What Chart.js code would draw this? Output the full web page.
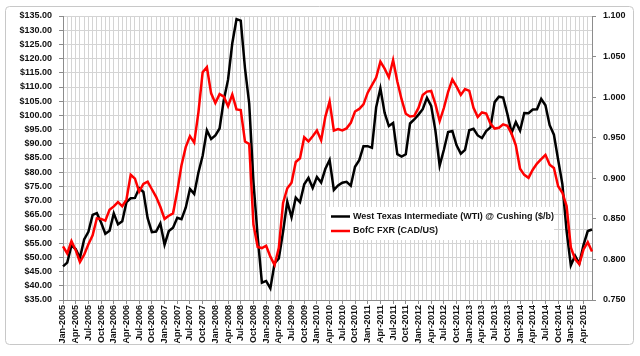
<!DOCTYPE html>
<html><head><meta charset="utf-8">
<script src="https://cdn.jsdelivr.net/npm/chart.js@4.4.1/dist/chart.umd.min.js"></script>
<style>html,body{margin:0;padding:0;background:#fff;}#wrap{width:640px;height:356px;}</style>
</head><body><div id="wrap"><canvas id="c" width="640" height="356"></canvas></div>
<script>
const months = [
 'Jan-2005','Feb-2005','Mar-2005','Apr-2005','May-2005','Jun-2005','Jul-2005','Aug-2005','Sep-2005','Oct-2005','Nov-2005','Dec-2005',
 'Jan-2006','Feb-2006','Mar-2006','Apr-2006','May-2006','Jun-2006','Jul-2006','Aug-2006','Sep-2006','Oct-2006','Nov-2006','Dec-2006',
 'Jan-2007','Feb-2007','Mar-2007','Apr-2007','May-2007','Jun-2007','Jul-2007','Aug-2007','Sep-2007','Oct-2007','Nov-2007','Dec-2007',
 'Jan-2008','Feb-2008','Mar-2008','Apr-2008','May-2008','Jun-2008','Jul-2008','Aug-2008','Sep-2008','Oct-2008','Nov-2008','Dec-2008',
 'Jan-2009','Feb-2009','Mar-2009','Apr-2009','May-2009','Jun-2009','Jul-2009','Aug-2009','Sep-2009','Oct-2009','Nov-2009','Dec-2009',
 'Jan-2010','Feb-2010','Mar-2010','Apr-2010','May-2010','Jun-2010','Jul-2010','Aug-2010','Sep-2010','Oct-2010','Nov-2010','Dec-2010',
 'Jan-2011','Feb-2011','Mar-2011','Apr-2011','May-2011','Jun-2011','Jul-2011','Aug-2011','Sep-2011','Oct-2011','Nov-2011','Dec-2011',
 'Jan-2012','Feb-2012','Mar-2012','Apr-2012','May-2012','Jun-2012','Jul-2012','Aug-2012','Sep-2012','Oct-2012','Nov-2012','Dec-2012',
 'Jan-2013','Feb-2013','Mar-2013','Apr-2013','May-2013','Jun-2013','Jul-2013','Aug-2013','Sep-2013','Oct-2013','Nov-2013','Dec-2013',
 'Jan-2014','Feb-2014','Mar-2014','Apr-2014','May-2014','Jun-2014','Jul-2014','Aug-2014','Sep-2014','Oct-2014','Nov-2014','Dec-2014',
 'Jan-2015','Feb-2015','Mar-2015','Apr-2015','May-2015','Jun-2015'
];
const wti = [
 46.84,48.15,54.19,52.98,49.83,56.35,59.00,64.99,65.59,62.26,58.32,59.41,
 65.49,61.63,62.69,69.44,70.84,70.95,74.41,73.04,63.80,58.89,59.08,61.96,
 54.51,59.28,60.44,63.98,63.46,67.49,74.12,72.36,79.92,85.80,94.77,91.69,
 92.97,95.39,105.45,112.58,125.40,133.88,133.37,116.67,104.11,76.61,57.31,41.12,
 41.71,39.09,47.94,49.65,59.03,69.64,64.15,71.05,69.41,75.72,77.99,74.47,
 78.33,76.39,81.20,84.29,73.74,75.34,76.32,76.60,75.24,81.89,84.25,89.15,
 89.17,88.58,102.86,109.53,100.90,96.26,97.30,86.33,85.52,86.32,97.16,98.56,
 100.27,102.20,106.16,103.32,94.66,82.30,87.90,94.13,94.51,89.49,86.53,87.86,
 94.76,95.31,92.94,92.02,94.51,95.77,104.67,106.57,106.29,100.54,93.86,97.63,
 94.62,100.82,100.80,102.07,102.18,105.79,103.59,96.54,93.21,84.40,75.79,59.29,
 47.22,50.58,47.82,54.45,59.27,59.82
];
const cadus = [
 0.8160,0.8073,0.8225,0.8114,0.7967,0.8058,0.8186,0.8296,0.8507,0.8499,0.8478,0.8612,
 0.8654,0.8707,0.8655,0.8738,0.9043,0.8996,0.8836,0.8930,0.8958,0.8865,0.8772,0.8649,
 0.8500,0.8539,0.8568,0.8839,0.9160,0.9384,0.9519,0.9440,0.9813,1.0307,1.0369,1.0047,
 0.9928,1.0037,1.0006,0.9889,1.0032,0.9849,0.9840,0.9454,0.9422,0.8430,0.8153,0.8140,
 0.8169,0.8034,0.7931,0.8143,0.8697,0.8877,0.8946,0.9201,0.9247,0.9505,0.9454,0.9518,
 0.9590,0.9470,0.9760,0.9947,0.9588,0.9606,0.9590,0.9615,0.9683,0.9823,0.9855,0.9911,
 1.0055,1.0148,1.0242,1.0437,1.0351,1.0243,1.0458,1.0193,0.9975,0.9795,0.9762,0.9769,
 0.9867,1.0026,1.0068,1.0077,0.9913,0.9705,0.9866,1.0064,1.0218,1.0130,1.0028,1.0099,
 1.0078,0.9868,0.9754,0.9811,0.9798,0.9675,0.9613,0.9623,0.9665,0.9647,0.9551,0.9406,
 0.9118,0.9042,0.9005,0.9106,0.9181,0.9236,0.9289,0.9166,0.9128,0.8902,0.8822,0.8657,
 0.8148,0.8004,0.7941,0.8123,0.8213,0.8099
];
const seriesLabels = ['West Texas Intermediate (WTI) @ Cushing ($/b)', 'BofC FXR (CAD/US)'];
const leftAxis = {min: 35, max: 135, step: 5};
const rightAxis = {min: 0.75, max: 1.10, step: 0.05};

const FONT = '"Liberation Sans", Arial, sans-serif';
const tickFont = {family: FONT, size: 9, weight: 'bold'};
const GRID = '#d4d4d4';
const AXIS = '#8c8c8c';

const framePlugin = {
  id: 'frame',
  beforeDraw(chart) {
    const ctx = chart.ctx;
    ctx.save();
    ctx.fillStyle = '#fff';
    ctx.fillRect(0, 0, chart.width, chart.height);
    ctx.strokeStyle = '#c8c8c8';
    ctx.lineWidth = 1;
    ctx.beginPath();
    ctx.roundRect(5.5, 6.5, 628, 338, 4);
    ctx.stroke();
    ctx.restore();
  }
};

const legendPlugin = {
  id: 'innerLegend',
  afterDatasetsDraw(chart) {
    const ctx = chart.ctx;
    ctx.save();
    ctx.fillStyle = '#fff';
    ctx.fillRect(326, 207, 228, 33);
    const rows = [[chart.data.datasets[0], 216.5], [chart.data.datasets[1], 231]];
    ctx.font = 'bold 9px ' + FONT;
    ctx.textBaseline = 'middle';
    rows.forEach(([ds, y]) => {
      ctx.strokeStyle = ds.borderColor;
      ctx.lineWidth = 2.5;
      ctx.beginPath();
      ctx.moveTo(331, y); ctx.lineTo(350, y);
      ctx.stroke();
      ctx.fillStyle = '#111';
      ctx.fillText(ds.label, 353, y);
    });
    ctx.restore();
  }
};

new Chart(document.getElementById('c'), {
  type: 'line',
  data: {
    labels: months,
    datasets: [
      {label: seriesLabels[0], data: wti, borderColor: '#000000', borderWidth: 2.5, pointRadius: 0, yAxisID: 'y', order: 1, tension: 0},
      {label: seriesLabels[1], data: cadus, borderColor: '#ff0000', borderWidth: 2.5, pointRadius: 0, yAxisID: 'y1', order: 0, tension: 0}
    ]
  },
  options: {
    responsive: false,
    animation: false,
    devicePixelRatio: 1,
    layout: {padding: {top: 16, left: 0, right: 0, bottom: 0}},
    plugins: {legend: {display: false}, tooltip: {enabled: false}},
    scales: {
      x: {
        type: 'category', offset: false,
        grid: {display: true, drawOnChartArea: true, color: GRID, lineWidth: 1, tickLength: 4,
          tickColor: c => (c.index % 3 === 0 ? AXIS : 'rgba(0,0,0,0)')},
        border: {color: AXIS},
        ticks: {autoSkip: false, minRotation: 90, maxRotation: 90, padding: 1, font: tickFont, color: '#111',
          callback: (v, i) => (i % 3 === 0 ? months[i] : '')},
        afterFit: s => { s.height = 56; }
      },
      y: {
        position: 'left', min: leftAxis.min, max: leftAxis.max,
        grid: {color: GRID, tickLength: 4, tickColor: AXIS},
        border: {color: AXIS},
        ticks: {stepSize: leftAxis.step, autoSkip: false, font: tickFont, color: '#111', padding: 7,
          callback: v => '$' + Number(v).toFixed(2)},
        afterFit: s => { s.width = 63; }
      },
      y1: {
        position: 'right', min: rightAxis.min, max: rightAxis.max,
        grid: {drawOnChartArea: false, tickLength: 4, tickColor: AXIS},
        border: {color: AXIS},
        ticks: {stepSize: rightAxis.step, autoSkip: false, font: tickFont, color: '#111', padding: 7,
          callback: v => Number(v).toFixed(3)},
        afterFit: s => { s.width = 48; }
      }
    }
  },
  plugins: [framePlugin, legendPlugin]
});
</script></body></html>
